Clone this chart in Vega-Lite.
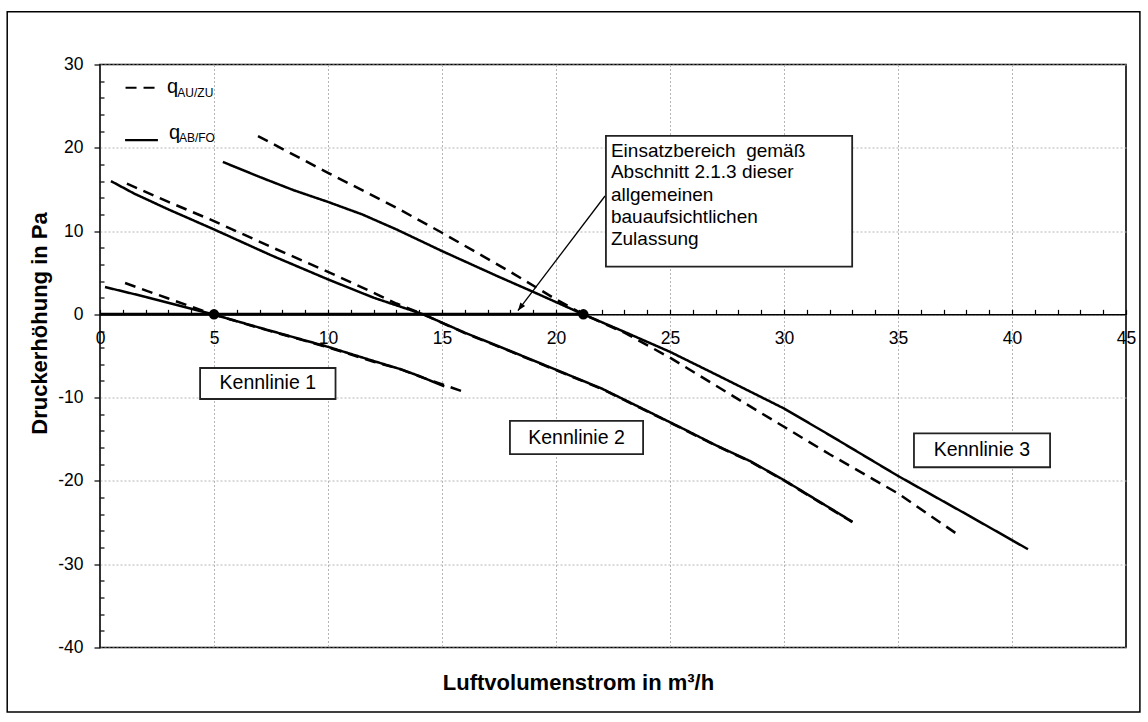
{
  "$schema": "https://vega.github.io/schema/vega-lite/v6.json",
  "width": 1026,
  "height": 583,
  "autosize": {"type": "none"},
  "padding": {"left": 100, "top": 64.5, "right": 22, "bottom": 74.5},
  "background": "white",
  "config": {
    "font": "Liberation Sans",
    "view": {"stroke": "black", "strokeWidth": 1.6},
    "axis": {"labelColor": "black", "titleColor": "black", "labelFont": "Liberation Sans", "titleFont": "Liberation Sans", "tickColor": "black", "domainColor": "black", "gridColor": "#b5b5b5", "gridDash": [2, 2], "gridWidth": 1}
  },
  "datasets": {
    "lines": [
      {"k": "1", "typ": "AB/FO", "x": 0.22, "y": 3.28},
      {"k": "1", "typ": "AB/FO", "x": 2.0, "y": 2.1},
      {"k": "1", "typ": "AB/FO", "x": 4.96, "y": 0.0},
      {"k": "1", "typ": "AB/FO", "x": 7.0, "y": -1.6},
      {"k": "1", "typ": "AB/FO", "x": 10.0, "y": -3.9},
      {"k": "1", "typ": "AB/FO", "x": 12.0, "y": -5.6},
      {"k": "1", "typ": "AB/FO", "x": 13.2, "y": -6.6},
      {"k": "1", "typ": "AB/FO", "x": 14.0, "y": -7.4},
      {"k": "1", "typ": "AB/FO", "x": 15.1, "y": -8.65},
      {"k": "1", "typ": "AU/ZU", "x": 1.1, "y": 3.76},
      {"k": "1", "typ": "AU/ZU", "x": 3.0, "y": 1.9},
      {"k": "1", "typ": "AU/ZU", "x": 4.96, "y": 0.0},
      {"k": "1", "typ": "AU/ZU", "x": 7.0, "y": -1.65},
      {"k": "1", "typ": "AU/ZU", "x": 10.0, "y": -3.95},
      {"k": "1", "typ": "AU/ZU", "x": 12.0, "y": -5.7},
      {"k": "1", "typ": "AU/ZU", "x": 13.2, "y": -6.6},
      {"k": "1", "typ": "AU/ZU", "x": 14.0, "y": -7.45},
      {"k": "1", "typ": "AU/ZU", "x": 15.9, "y": -9.25},
      {"k": "2", "typ": "AB/FO", "x": 0.48, "y": 16.0},
      {"k": "2", "typ": "AB/FO", "x": 1.5, "y": 14.5},
      {"k": "2", "typ": "AB/FO", "x": 3.0, "y": 12.6},
      {"k": "2", "typ": "AB/FO", "x": 5.0, "y": 10.2},
      {"k": "2", "typ": "AB/FO", "x": 7.5, "y": 7.1},
      {"k": "2", "typ": "AB/FO", "x": 10.0, "y": 4.2},
      {"k": "2", "typ": "AB/FO", "x": 12.0, "y": 2.0},
      {"k": "2", "typ": "AB/FO", "x": 14.18, "y": 0.0},
      {"k": "2", "typ": "AB/FO", "x": 16.0, "y": -2.2},
      {"k": "2", "typ": "AB/FO", "x": 18.0, "y": -4.4},
      {"k": "2", "typ": "AB/FO", "x": 20.0, "y": -6.65},
      {"k": "2", "typ": "AB/FO", "x": 22.0, "y": -8.9},
      {"k": "2", "typ": "AB/FO", "x": 24.0, "y": -11.6},
      {"k": "2", "typ": "AB/FO", "x": 25.7, "y": -13.9},
      {"k": "2", "typ": "AB/FO", "x": 27.0, "y": -15.7},
      {"k": "2", "typ": "AB/FO", "x": 28.5, "y": -17.6},
      {"k": "2", "typ": "AB/FO", "x": 30.0, "y": -19.9},
      {"k": "2", "typ": "AB/FO", "x": 31.5, "y": -22.4},
      {"k": "2", "typ": "AB/FO", "x": 33.0, "y": -24.9},
      {"k": "2", "typ": "AU/ZU", "x": 1.18, "y": 15.7},
      {"k": "2", "typ": "AU/ZU", "x": 3.0, "y": 13.5},
      {"k": "2", "typ": "AU/ZU", "x": 5.0, "y": 11.2},
      {"k": "2", "typ": "AU/ZU", "x": 7.5, "y": 8.1},
      {"k": "2", "typ": "AU/ZU", "x": 10.0, "y": 5.1},
      {"k": "2", "typ": "AU/ZU", "x": 12.0, "y": 2.6},
      {"k": "2", "typ": "AU/ZU", "x": 13.0, "y": 1.3},
      {"k": "2", "typ": "AU/ZU", "x": 14.18, "y": 0.0},
      {"k": "2", "typ": "AU/ZU", "x": 16.0, "y": -2.25},
      {"k": "2", "typ": "AU/ZU", "x": 18.0, "y": -4.45},
      {"k": "2", "typ": "AU/ZU", "x": 20.0, "y": -6.7},
      {"k": "2", "typ": "AU/ZU", "x": 22.0, "y": -8.95},
      {"k": "2", "typ": "AU/ZU", "x": 24.0, "y": -11.65},
      {"k": "2", "typ": "AU/ZU", "x": 25.7, "y": -13.95},
      {"k": "2", "typ": "AU/ZU", "x": 27.0, "y": -15.75},
      {"k": "2", "typ": "AU/ZU", "x": 28.5, "y": -17.65},
      {"k": "2", "typ": "AU/ZU", "x": 30.0, "y": -19.95},
      {"k": "2", "typ": "AU/ZU", "x": 31.5, "y": -22.45},
      {"k": "2", "typ": "AU/ZU", "x": 33.0, "y": -24.95},
      {"k": "3", "typ": "AB/FO", "x": 5.39, "y": 18.3},
      {"k": "3", "typ": "AB/FO", "x": 7.0, "y": 16.5},
      {"k": "3", "typ": "AB/FO", "x": 8.5, "y": 14.9},
      {"k": "3", "typ": "AB/FO", "x": 10.0, "y": 13.5},
      {"k": "3", "typ": "AB/FO", "x": 11.5, "y": 12.0},
      {"k": "3", "typ": "AB/FO", "x": 13.0, "y": 10.2},
      {"k": "3", "typ": "AB/FO", "x": 15.0, "y": 7.6},
      {"k": "3", "typ": "AB/FO", "x": 17.5, "y": 4.5},
      {"k": "3", "typ": "AB/FO", "x": 19.0, "y": 2.7},
      {"k": "3", "typ": "AB/FO", "x": 21.2, "y": 0.0},
      {"k": "3", "typ": "AB/FO", "x": 23.0, "y": -2.1},
      {"k": "3", "typ": "AB/FO", "x": 25.0, "y": -4.5},
      {"k": "3", "typ": "AB/FO", "x": 27.0, "y": -7.2},
      {"k": "3", "typ": "AB/FO", "x": 30.0, "y": -11.3},
      {"k": "3", "typ": "AB/FO", "x": 32.0, "y": -14.5},
      {"k": "3", "typ": "AB/FO", "x": 35.0, "y": -19.4},
      {"k": "3", "typ": "AB/FO", "x": 38.0, "y": -24.0},
      {"k": "3", "typ": "AB/FO", "x": 40.7, "y": -28.2},
      {"k": "3", "typ": "AU/ZU", "x": 6.93, "y": 21.4},
      {"k": "3", "typ": "AU/ZU", "x": 10.0, "y": 17.0},
      {"k": "3", "typ": "AU/ZU", "x": 13.0, "y": 12.8},
      {"k": "3", "typ": "AU/ZU", "x": 15.0, "y": 9.8},
      {"k": "3", "typ": "AU/ZU", "x": 18.0, "y": 5.1},
      {"k": "3", "typ": "AU/ZU", "x": 20.0, "y": 1.8},
      {"k": "3", "typ": "AU/ZU", "x": 21.2, "y": 0.0},
      {"k": "3", "typ": "AU/ZU", "x": 23.0, "y": -2.2},
      {"k": "3", "typ": "AU/ZU", "x": 25.0, "y": -5.2},
      {"k": "3", "typ": "AU/ZU", "x": 28.0, "y": -10.2},
      {"k": "3", "typ": "AU/ZU", "x": 30.0, "y": -13.5},
      {"k": "3", "typ": "AU/ZU", "x": 32.0, "y": -16.8},
      {"k": "3", "typ": "AU/ZU", "x": 35.0, "y": -21.5},
      {"k": "3", "typ": "AU/ZU", "x": 37.6, "y": -26.4}
    ],
    "range": [{"x": 0, "x2": 21.2, "y": 0}],
    "dots": [{"x": 5.0, "y": 0}, {"x": 21.2, "y": 0}],
    "arrow": [{"x": 22.15, "y": 14.21}, {"x": 18.33, "y": 0.44}],
    "arrowhead": [{"x": 18.33, "y": 0.44}],
    "boxes": [
      {"t": "Kennlinie 1", "x1": 4.39, "x2": 10.33, "y1": -6.44, "y2": -10.16, "cx": 7.36, "cy": -8.3},
      {"t": "Kennlinie 2", "x1": 17.98, "x2": 23.82, "y1": -12.8, "y2": -16.77, "cx": 20.9, "cy": -14.8},
      {"t": "Kennlinie 3", "x1": 35.7, "x2": 41.67, "y1": -14.28, "y2": -18.36, "cx": 38.68, "cy": -16.3}
    ],
    "notebox": [{"x1": 22.19, "x2": 32.99, "y1": 21.42, "y2": 5.72}],
    "notetext": [
      {"t": "Einsatzbereich \u00a0gemäß", "x": 22.41, "y": 19.65},
      {"t": "Abschnitt 2.1.3 dieser", "x": 22.41, "y": 17.06},
      {"t": "allgemeinen", "x": 22.41, "y": 14.33},
      {"t": "bauaufsichtlichen", "x": 22.41, "y": 11.69},
      {"t": "Zulassung", "x": 22.41, "y": 9.01}
    ],
    "legendlines": [
      {"typ": "AU/ZU", "x": 1.12, "y": 27.21},
      {"typ": "AU/ZU", "x": 2.41, "y": 27.21},
      {"typ": "AB/FO", "x": 1.1, "y": 20.93},
      {"typ": "AB/FO", "x": 2.54, "y": 20.93}
    ],
    "legendq": [
      {"t": "q", "x": 2.94, "y": 26.54},
      {"t": "q", "x": 3.03, "y": 21.02}
    ],
    "legendsub": [
      {"t": "AU/ZU", "x": 3.39, "y": 26.13},
      {"t": "AB/FO", "x": 3.46, "y": 20.66}
    ],
    "frame": [{"x1": -4.07, "x2": 45.61, "y1": 36.34, "y2": -47.74}]
  },
  "resolve": {"axis": {"x": "independent", "y": "independent"}},
  "layer": [
    {
      "data": {"name": "frame"},
      "mark": {"type": "rect", "fill": null, "fillOpacity": 0, "stroke": "black", "strokeWidth": 1.5, "clip": false},
      "encoding": {
        "x": {"field": "x1", "type": "quantitative", "scale": {"domain": [0, 45], "nice": false, "zero": false}, "axis": null},
        "x2": {"field": "x2"},
        "y": {"field": "y1", "type": "quantitative", "scale": {"domain": [-40, 30], "nice": false, "zero": false}, "axis": null},
        "y2": {"field": "y2"}
      }
    },
    {
      "data": {"name": "lines"},
      "mark": {"type": "line", "color": "black", "strokeWidth": 2.5},
      "encoding": {
        "x": {
          "field": "x", "type": "quantitative",
          "scale": {"domain": [0, 45], "nice": false, "zero": false},
          "axis": {
            "orient": "bottom", "values": [5, 10, 15, 20, 25, 30, 35, 40], "grid": true,
            "labels": false, "ticks": false, "domain": false,
            "title": "Luftvolumenstrom in m³/h", "titleFontSize": 22, "titleFontWeight": "bold",
            "titleX": 478, "titleY": 35, "titleBaseline": "middle", "titleAlign": "center"
          }
        },
        "y": {
          "field": "y", "type": "quantitative",
          "scale": {"domain": [-40, 30], "nice": false, "zero": false},
          "axis": {
            "orient": "left", "values": [-40, -30, -20, -10, 0, 10, 20, 30], "grid": true,
            "labelExpr": "'' + datum.value",
            "domain": false, "tickSize": 6, "tickWidth": 1.2, "labelFontSize": 17.5, "labelPadding": 11,
            "title": "Druckerhöhung in Pa", "titleFontSize": 22, "titleFontWeight": "bold",
            "titleAngle": -90, "titleX": -61, "titleY": 258.5, "titleBaseline": "middle", "titleAlign": "center"
          }
        },
        "detail": {"field": "k"},
        "strokeDash": {"field": "typ", "type": "nominal", "scale": {"domain": ["AU/ZU", "AB/FO"], "range": [[11, 7], [1, 0]]}, "legend": null}
      }
    },
    {
      "data": {"name": "range"},
      "mark": {"type": "rule", "color": "black", "strokeWidth": 3},
      "encoding": {
        "x": {
          "field": "x", "type": "quantitative",
          "scale": {"domain": [0, 45], "nice": false, "zero": false},
          "axis": {
            "orient": "top", "offset": -249.86,
            "values": [0, 1, 2, 3, 4, 5, 6, 7, 8, 9, 10, 11, 12, 13, 14, 15, 16, 17, 18, 19, 20, 21, 22, 23, 24, 25, 26, 27, 28, 29, 30, 31, 32, 33, 34, 35, 36, 37, 38, 39, 40, 41, 42, 43, 44, 45],
            "labelExpr": "datum.value % 5 === 0 ? datum.label : ''",
            "tickSize": 5, "tickWidth": 1.2, "domain": true, "domainWidth": 1.5, "grid": false,
            "labelFontSize": 17.5, "labelPadding": -29.5, "labelBaseline": "middle",
            "labelFlush": false, "labelOverlap": false, "title": null
          }
        },
        "x2": {"field": "x2"},
        "y": {"field": "y", "type": "quantitative", "scale": {"domain": [-40, 30], "nice": false, "zero": false}, "axis": null}
      }
    },
    {
      "data": {"name": "dots"},
      "mark": {"type": "point", "filled": true, "color": "black", "size": 110, "opacity": 1, "shape": "circle"},
      "encoding": {
        "x": {"field": "x", "type": "quantitative", "scale": {"domain": [0, 45], "nice": false, "zero": false}, "axis": null},
        "y": {
          "field": "y", "type": "quantitative",
          "scale": {"domain": [-40, 30], "nice": false, "zero": false},
          "axis": {
            "orient": "left",
            "values": [-38, -36, -34, -32, -28, -26, -24, -22, -18, -16, -14, -12, -8, -6, -4, -2, 2, 4, 6, 8, 12, 14, 16, 18, 22, 24, 26, 28],
            "tickSize": -4, "tickWidth": 1.2, "labels": false, "domain": false, "grid": false, "title": null
          }
        }
      }
    },
    {
      "data": {"name": "arrow"},
      "mark": {"type": "line", "color": "black", "strokeWidth": 1.3},
      "encoding": {
        "x": {"field": "x", "type": "quantitative", "scale": {"domain": [0, 45], "nice": false, "zero": false}, "axis": null},
        "y": {"field": "y", "type": "quantitative", "scale": {"domain": [-40, 30], "nice": false, "zero": false}, "axis": null}
      }
    },
    {
      "data": {"name": "arrowhead"},
      "mark": {"type": "point", "filled": true, "color": "black", "opacity": 1, "size": 100, "angle": 217, "shape": "M0,0L-0.6,1.6L0.6,1.6Z"},
      "encoding": {
        "x": {"field": "x", "type": "quantitative", "scale": {"domain": [0, 45], "nice": false, "zero": false}, "axis": null},
        "y": {"field": "y", "type": "quantitative", "scale": {"domain": [-40, 30], "nice": false, "zero": false}, "axis": null}
      }
    },
    {
      "data": {"name": "boxes"},
      "mark": {"type": "rect", "fill": "white", "stroke": "#222", "strokeWidth": 1.8},
      "encoding": {
        "x": {"field": "x1", "type": "quantitative", "scale": {"domain": [0, 45], "nice": false, "zero": false}, "axis": null},
        "x2": {"field": "x2"},
        "y": {"field": "y1", "type": "quantitative", "scale": {"domain": [-40, 30], "nice": false, "zero": false}, "axis": null},
        "y2": {"field": "y2"}
      }
    },
    {
      "data": {"name": "boxes"},
      "mark": {"type": "text", "fontSize": 19.5, "color": "black", "align": "center", "baseline": "middle", "font": "Liberation Sans"},
      "encoding": {
        "x": {"field": "cx", "type": "quantitative", "scale": {"domain": [0, 45], "nice": false, "zero": false}, "axis": null},
        "y": {"field": "cy", "type": "quantitative", "scale": {"domain": [-40, 30], "nice": false, "zero": false}, "axis": null},
        "text": {"field": "t"}
      }
    },
    {
      "data": {"name": "notebox"},
      "mark": {"type": "rect", "fill": "white", "stroke": "#222", "strokeWidth": 1.8},
      "encoding": {
        "x": {"field": "x1", "type": "quantitative", "scale": {"domain": [0, 45], "nice": false, "zero": false}, "axis": null},
        "x2": {"field": "x2"},
        "y": {"field": "y1", "type": "quantitative", "scale": {"domain": [-40, 30], "nice": false, "zero": false}, "axis": null},
        "y2": {"field": "y2"}
      }
    },
    {
      "data": {"name": "notetext"},
      "mark": {"type": "text", "fontSize": 19, "color": "black", "align": "left", "baseline": "middle", "font": "Liberation Sans"},
      "encoding": {
        "x": {"field": "x", "type": "quantitative", "scale": {"domain": [0, 45], "nice": false, "zero": false}, "axis": null},
        "y": {"field": "y", "type": "quantitative", "scale": {"domain": [-40, 30], "nice": false, "zero": false}, "axis": null},
        "text": {"field": "t"}
      }
    },
    {
      "data": {"name": "legendlines"},
      "mark": {"type": "line", "color": "black", "strokeWidth": 2.2},
      "encoding": {
        "x": {"field": "x", "type": "quantitative", "scale": {"domain": [0, 45], "nice": false, "zero": false}, "axis": null},
        "y": {"field": "y", "type": "quantitative", "scale": {"domain": [-40, 30], "nice": false, "zero": false}, "axis": null},
        "detail": {"field": "typ"},
        "strokeDash": {"field": "typ", "type": "nominal", "scale": {"domain": ["AU/ZU", "AB/FO"], "range": [[4, 6], [1, 0]]}, "legend": null}
      }
    },
    {
      "data": {"name": "legendq"},
      "mark": {"type": "text", "fontSize": 20, "color": "black", "align": "left", "baseline": "alphabetic", "font": "Liberation Sans"},
      "encoding": {
        "x": {"field": "x", "type": "quantitative", "scale": {"domain": [0, 45], "nice": false, "zero": false}, "axis": null},
        "y": {"field": "y", "type": "quantitative", "scale": {"domain": [-40, 30], "nice": false, "zero": false}, "axis": null},
        "text": {"field": "t"}
      }
    },
    {
      "data": {"name": "legendsub"},
      "mark": {"type": "text", "fontSize": 12, "color": "black", "align": "left", "baseline": "alphabetic", "font": "Liberation Sans"},
      "encoding": {
        "x": {"field": "x", "type": "quantitative", "scale": {"domain": [0, 45], "nice": false, "zero": false}, "axis": null},
        "y": {"field": "y", "type": "quantitative", "scale": {"domain": [-40, 30], "nice": false, "zero": false}, "axis": null},
        "text": {"field": "t"}
      }
    }
  ]
}
